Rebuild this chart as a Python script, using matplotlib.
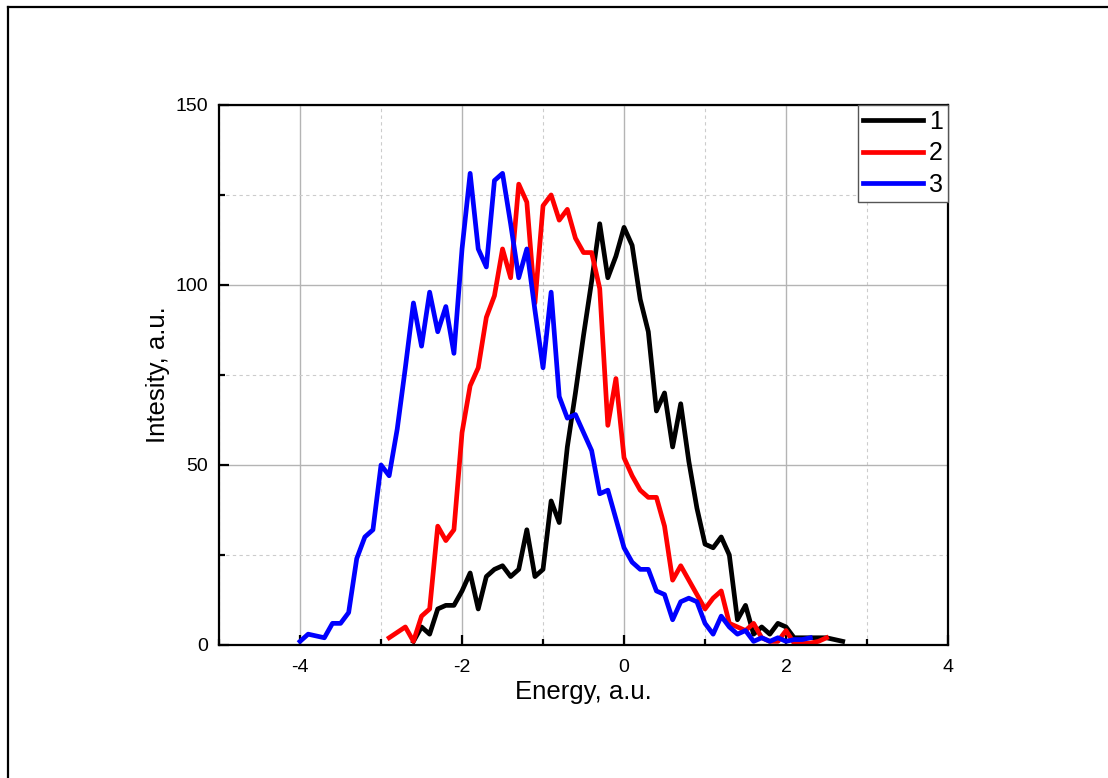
import numpy as np
import matplotlib
matplotlib.use("Agg")
from matplotlib import pyplot as plt
from matplotlib.lines import Line2D
from matplotlib.ticker import MultipleLocator

plt.rcParams['font.family'] = ['Liberation Sans', 'DejaVu Sans']
plt.rcParams['axes.unicode_minus'] = False

# spectra, energy in a.u.
energy_1 = [-2.6, -2.5, -2.4, -2.3, -2.2, -2.1, -2.0, -1.9, -1.8, -1.7, -1.6, -1.5,
            -1.4, -1.3, -1.2, -1.1, -1.0, -0.9, -0.8, -0.7, -0.6, -0.5, -0.4, -0.3,
            -0.2, -0.1, 0.0, 0.1, 0.2, 0.3, 0.4, 0.5, 0.6, 0.7, 0.8, 0.9, 1.0, 1.1,
            1.2, 1.3, 1.4, 1.5, 1.6, 1.7, 1.8, 1.9, 2.0, 2.1, 2.2, 2.3, 2.4, 2.5,
            2.6, 2.7]
intensity_1 = [1, 5, 3, 10, 11, 11, 15, 20, 10, 19, 21, 22,
               19, 21, 32, 19, 21, 40, 34, 55, 70, 86, 101, 117,
               102, 108, 116, 111, 96, 87, 65, 70, 55, 67, 51, 38, 28, 27,
               30, 25, 7, 11, 3, 5, 3, 6, 5, 2, 2, 2, 2, 2,
               1.5, 1]

energy_2 = [-2.9, -2.8, -2.7, -2.6, -2.5, -2.4, -2.3, -2.2, -2.1, -2.0, -1.9, -1.8,
            -1.7, -1.6, -1.5, -1.4, -1.3, -1.2, -1.1, -1.0, -0.9, -0.8, -0.7, -0.6,
            -0.5, -0.4, -0.3, -0.2, -0.1, 0.0, 0.1, 0.2, 0.3, 0.4, 0.5, 0.6, 0.7,
            0.8, 0.9, 1.0, 1.1, 1.2, 1.3, 1.4, 1.5, 1.6, 1.7, 1.8, 1.9, 2.0, 2.1,
            2.2, 2.3, 2.4, 2.5]
intensity_2 = [2, 3.5, 5, 1, 8, 10, 33, 29, 32, 59, 72, 77,
               91, 97, 110, 102, 128, 123, 95, 122, 125, 118, 121, 113,
               109, 109, 99, 61, 74, 52, 47, 43, 41, 41, 33, 18, 22,
               18, 14, 10, 13, 15, 6, 5, 4, 6, 2, 1, 1, 4, 0.5,
               0.5, 0.5, 1, 2]

energy_3 = [-4.0, -3.9, -3.8, -3.7, -3.6, -3.5, -3.4, -3.3, -3.2, -3.1, -3.0, -2.9,
            -2.8, -2.7, -2.6, -2.5, -2.4, -2.3, -2.2, -2.1, -2.0, -1.9, -1.8, -1.7,
            -1.6, -1.5, -1.4, -1.3, -1.2, -1.1, -1.0, -0.9, -0.8, -0.7, -0.6, -0.5,
            -0.4, -0.3, -0.2, -0.1, 0.0, 0.1, 0.2, 0.3, 0.4, 0.5, 0.6, 0.7, 0.8,
            0.9, 1.0, 1.1, 1.2, 1.3, 1.4, 1.5, 1.6, 1.7, 1.8, 1.9, 2.0, 2.1, 2.2,
            2.3]
intensity_3 = [1, 3, 2.5, 2, 6, 6, 9, 24, 30, 32, 50, 47,
               60, 77, 95, 83, 98, 87, 94, 81, 110, 131, 110, 105,
               129, 131, 117, 102, 110, 93, 77, 98, 69, 63, 64, 59,
               54, 42, 43, 35, 27, 23, 21, 21, 15, 14, 7, 12, 13,
               12, 6, 3, 8, 5, 3, 4, 1, 2, 1, 2, 1, 1.5, 1.5,
               2]

labels = ["1", "2", "3"]
colors = ["black", "red", "blue"]

fig = plt.figure(figsize=(11.08, 7.78), dpi=100)
ax = fig.add_axes([0.1977, 0.1710, 0.6579, 0.6941])

ax.plot(energy_1, intensity_1, color=colors[0], lw=3.4, label=labels[0])
ax.plot(energy_2, intensity_2, color=colors[1], lw=3.4, label=labels[1])
ax.plot(energy_3, intensity_3, color=colors[2], lw=3.4, label=labels[2])

ax.set_xlim(-5, 4)
ax.set_ylim(0, 150)
ax.xaxis.set_major_locator(MultipleLocator(2))
ax.xaxis.set_minor_locator(MultipleLocator(1))
ax.yaxis.set_major_locator(MultipleLocator(50))
ax.yaxis.set_minor_locator(MultipleLocator(25))

ax.set_axisbelow(True)
ax.grid(which='major', color='#b4b4b4', lw=1.0, ls='-')
ax.grid(which='minor', color='#cccccc', lw=0.8, ls=(0, (3, 3)))

ax.tick_params(which='both', direction='in', top=False, right=False,
               width=1.6, labelsize=14, pad=8)
ax.tick_params(axis='x', pad=10)
ax.tick_params(which='major', length=7)
ax.tick_params(which='minor', length=4)
for s in ax.spines.values():
    s.set_linewidth(1.6)

ax.set_xlabel("Energy, a.u.", fontsize=18.5, labelpad=3)
ax.set_ylabel("Intesity, a.u.", fontsize=18.5, labelpad=3.5)

leg = ax.legend(loc='upper right', fontsize=18, frameon=True, fancybox=False,
                borderaxespad=0, handlelength=2.4, handletextpad=0.25,
                labelspacing=0.3, borderpad=0.2, framealpha=1)
leg.get_frame().set_edgecolor('#555555')
leg.get_frame().set_linewidth(1.0)

# frame lines along the top and left of the figure
fig.add_artist(Line2D([8 / 1108, 8 / 1108], [0, 1 - 7 / 778], color='black', lw=1.6,
                      transform=fig.transFigure))
fig.add_artist(Line2D([8 / 1108, 1], [1 - 7 / 778, 1 - 7 / 778], color='black', lw=1.6,
                      transform=fig.transFigure))

fig.savefig("out.png", dpi=100)
